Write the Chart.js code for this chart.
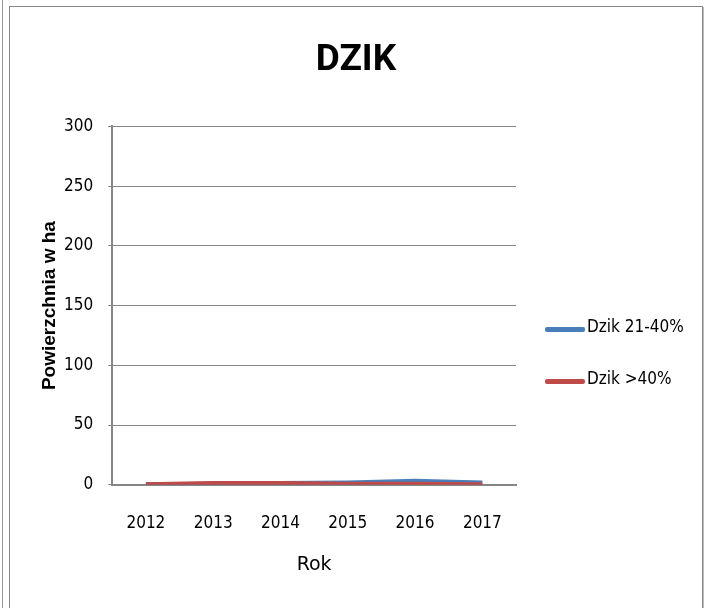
<!DOCTYPE html>
<html>
<head>
<meta charset="utf-8">
<script src="https://cdn.jsdelivr.net/npm/chart.js@4/dist/chart.umd.min.js"></script>
<style>
  body { margin: 0; background: #fff; width: 709px; height: 608px; overflow: hidden; position: relative; }
  #edge { position: absolute; left: 2px; top: 0; width: 1px; height: 608px; background: #999; }
  #box { position: absolute; left: 9px; top: 6px; width: 692px; height: 610px; border: 1px solid #888; box-shadow: 1px 1px 0 #bbb; }
  #wrap { position: absolute; left: 0; top: 0; width: 692px; height: 601px; }
  #legend { position: absolute; left: 0; top: 0; font-family: 'DejaVu Sans', sans-serif; font-stretch: condensed; font-size: 17px; color: #000; }
  .item { position: absolute; white-space: nowrap; }
  .item span.swatch { position: absolute; left: 0; width: 40px; height: 5px; border-radius: 2px; }
  .item span.txt { position: absolute; left: 42px; top: -11px; }
</style>
</head>
<body>
<div id="edge"></div>
<div id="box"><div id="wrap"><canvas id="lineChart"></canvas></div><div id="legend"></div></div>
<script>
const years = ["2012", "2013", "2014", "2015", "2016", "2017"];
const dzik2140 = [0, 0.5, 1, 1.5, 3, 1.5];
const dzik40 = [0, 1, 1, 0.5, 0.5, 0];
const yTicks = [0, 50, 100, 150, 200, 250, 300];

const family = "'DejaVu Sans', sans-serif";

// make all canvas text condensed (narrow font like the original)
const condensed = {
  id: "condensed",
  beforeUpdate(chart) { chart.ctx.fontStretch = "condensed"; },
  beforeDraw(chart) { chart.ctx.fontStretch = "condensed"; },
};

var ctx = document.getElementById("lineChart").getContext("2d");
var chart = new Chart(ctx, {
  type: "line",
  plugins: [condensed],
  data: {
    labels: years,
    datasets: [
      {
        label: "Dzik 21-40%",
        borderColor: "#4A7EBB",
        backgroundColor: "#4A7EBB",
        borderWidth: 5,
        pointRadius: 0,
        order: 2,
        data: dzik2140,
      },
      {
        label: "Dzik >40%",
        borderColor: "#BE4B48",
        backgroundColor: "#BE4B48",
        borderWidth: 5,
        pointRadius: 0,
        order: 1,
        data: dzik40,
      },
    ],
  },
  options: {
    responsive: true,
    maintainAspectRatio: false,
    animation: false,
    layout: { padding: { left: 0, right: 0, top: 20, bottom: 28 } },
    plugins: {
      title: {
        display: true,
        text: "DZIK",
        color: "#000",
        font: { family: "Roboto, sans-serif", size: 37, weight: "bold" },
        padding: { top: 12, bottom: 43 },
      },
      legend: { display: false },
      tooltip: { enabled: false },
    },
    scales: {
      x: {
        offset: true,
        grid: { display: false, drawTicks: false },
        border: { color: "#868686", width: 2 },
        ticks: { color: "#000", padding: 29, font: { family: family, size: 17 } },
        title: {
          display: true,
          text: "Rok",
          color: "#000",
          font: { family: family, size: 19 },
          padding: { top: -10, bottom: 4 },
        },
      },
      y: {
        min: 0,
        max: 300,
        afterBuildTicks: (axis) => { axis.ticks = yTicks.map((v) => ({ value: v })); },
        grid: { color: "#868686", tickLength: 4 },
        border: { color: "#868686", width: 2 },
        ticks: { color: "#000", padding: 15, font: { family: family, size: 17 } },
        title: {
          display: true,
          text: "Powierzchnia w ha",
          color: "#000",
          font: { family: "'Liberation Sans', Arial, sans-serif", size: 19, weight: "bold" },
          padding: { top: 28, bottom: -15 },
        },
      },
      // empty right-hand box that leaves room for the legend
      yRight: {
        position: "right",
        display: true,
        grid: { display: false },
        border: { display: false },
        ticks: { display: false },
        afterFit: (scale) => { scale.width = 186; },
      },
    },
  },
});

// legend from the datasets, placed right of the plot
const legendTops = [320, 372];
const legend = document.getElementById("legend");
chart.data.datasets.forEach((ds, i) => {
  const item = document.createElement("div");
  item.className = "item";
  item.style.left = "535px";
  item.style.top = legendTops[i] + "px";
  item.innerHTML = '<span class="swatch" style="background:' + ds.borderColor + '"></span><span class="txt">' +
    ds.label.replace(">", "&gt;") + "</span>";
  legend.appendChild(item);
});
</script>
</body>
</html>
